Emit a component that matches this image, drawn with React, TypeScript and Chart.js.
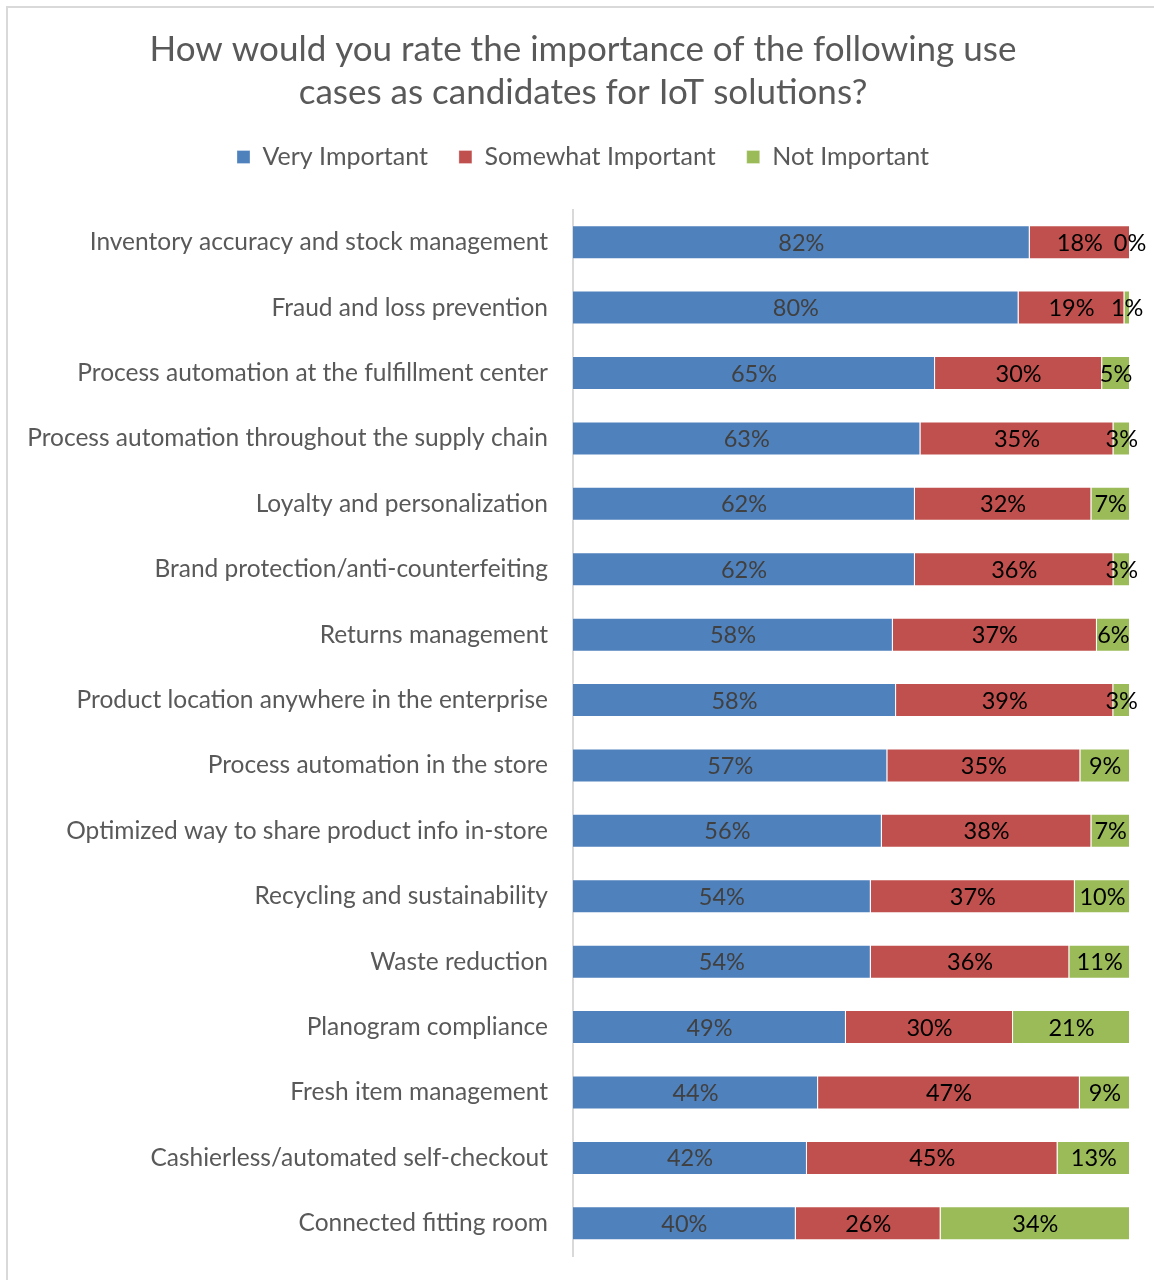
import React, { useEffect, useRef } from "react";
import { Chart, registerables } from "chart.js";

Chart.register(...registerables);

const categories = [
  "Inventory accuracy and stock management",
  "Fraud and loss prevention",
  "Process automation at the fulfillment center",
  "Process automation throughout the supply chain",
  "Loyalty and personalization",
  "Brand protection/anti-counterfeiting",
  "Returns management",
  "Product location anywhere in the enterprise",
  "Process automation in the store",
  "Optimized way to share product info in-store",
  "Recycling and sustainability",
  "Waste reduction",
  "Planogram compliance",
  "Fresh item management",
  "Cashierless/automated self-checkout",
  "Connected fitting room",
];

const veryImportant = [82, 80, 65, 63, 62, 62, 58, 58, 57, 56, 54, 54, 49, 44, 42, 40];
const somewhatImportant = [18, 19, 30, 35, 32, 36, 37, 39, 35, 38, 37, 36, 30, 47, 45, 26];
const notImportant = [0, 1, 5, 3, 7, 3, 6, 3, 9, 7, 10, 11, 21, 9, 13, 34];

const seriesNames = ["Very Important", "Somewhat Important", "Not Important"];
const seriesColors = ["#4F81BD", "#C0504D", "#9BBB59"];
const labelColors = ["#404040", "#000000", "#000000"];
const titleLines = [
  "How would you rate the importance of the following use",
  "cases as candidates for IoT solutions?",
];

const FONT = "Lato";
const rawSeries = [veryImportant, somewhatImportant, notImportant];
const rowTotals = categories.map((_, i) => rawSeries.reduce((s, arr) => s + arr[i], 0));

const frameAndBg = {
  id: "frameAndBg",
  beforeDraw(chart: any) {
    const { ctx, width, height } = chart;
    ctx.save();
    ctx.fillStyle = "#ffffff";
    ctx.fillRect(0, 0, width, height);
    ctx.strokeStyle = "#d9d9d9";
    ctx.lineWidth = 2;
    ctx.strokeRect(7, 7, width + 50, height + 50);
    ctx.restore();
  },
};

const segLabels = {
  id: "segLabels",
  afterDatasetsDraw(chart: any) {
    const ctx = chart.ctx;
    ctx.save();
    ctx.font = `23.5px ${FONT}`;
    ctx.textAlign = "center";
    ctx.textBaseline = "middle";
    chart.data.datasets.forEach((_: any, di: number) => {
      const meta = chart.getDatasetMeta(di);
      meta.data.forEach((el: any, i: number) => {
        const { x, base, y } = el.getProps(["x", "base", "y"], true);
        ctx.fillStyle = labelColors[di];
        ctx.fillText(`${rawSeries[di][i]}%`, (x + base) / 2, y + 1);
      });
    });
    ctx.restore();
  },
};

export default function App() {
  const ref = useRef<HTMLCanvasElement | null>(null);
  useEffect(() => {
    document.body.style.margin = "0";
    if (!ref.current) return;
    const chart = new Chart(ref.current, {
      type: "bar",
      data: {
        labels: categories,
        datasets: rawSeries.map((arr, di) => ({
          label: seriesNames[di],
          data: arr.map((v, i) => (v / rowTotals[i]) * 100),
          backgroundColor: seriesColors[di],
          borderColor: "rgba(255,255,255,0.3)",
          borderWidth: 1,
          barPercentage: 0.52,
          categoryPercentage: 1,
          yAxisID: "y",
          xAxisID: "x",
        })),
      },
      options: {
        indexAxis: "y",
        responsive: false,
        animation: false,
        layout: { padding: { left: 12, right: 0, top: 0, bottom: 24 } },
        scales: {
          x: {
            stacked: true,
            min: 0,
            max: 100,
            position: "top",
            display: true,
            grid: { display: false, drawTicks: false },
            border: { display: false },
            ticks: { display: false },
            afterFit(scale: any) {
              scale.height = 30;
            },
          },
          y: {
            stacked: true,
            grid: { display: false, drawTicks: true, tickLength: 25 },
            border: { display: true, color: "#d9d9d9", width: 2 },
            ticks: { font: { family: FONT, size: 24.5 }, color: "#595959", padding: 0 },
            afterFit(scale: any) {
              scale.width = 573 - 12;
            },
          },
          ySpacer: {
            type: "linear",
            axis: "y",
            position: "right",
            display: true,
            min: 0,
            max: 1,
            grid: { display: false, drawTicks: false },
            border: { display: false },
            ticks: { display: false },
            afterFit(scale: any) {
              scale.width = 24;
            },
          },
        },
        plugins: {
          title: {
            display: true,
            text: titleLines,
            font: { family: FONT, size: 35, weight: "normal", lineHeight: 43 / 35 },
            color: "#595959",
            padding: { top: 28.5, bottom: -1 },
          },
          legend: {
            position: "top",
            labels: {
              boxWidth: 13,
              boxHeight: 13,
              padding: 31,
              font: { family: FONT, size: 25 },
              color: "#595959",
            },
          },
          tooltip: { enabled: false },
        },
      },
      plugins: [frameAndBg, segLabels],
    });
    return () => chart.destroy();
  }, []);
  return <canvas ref={ref} width={1154} height={1280} style={{ display: "block" }} />;
}
